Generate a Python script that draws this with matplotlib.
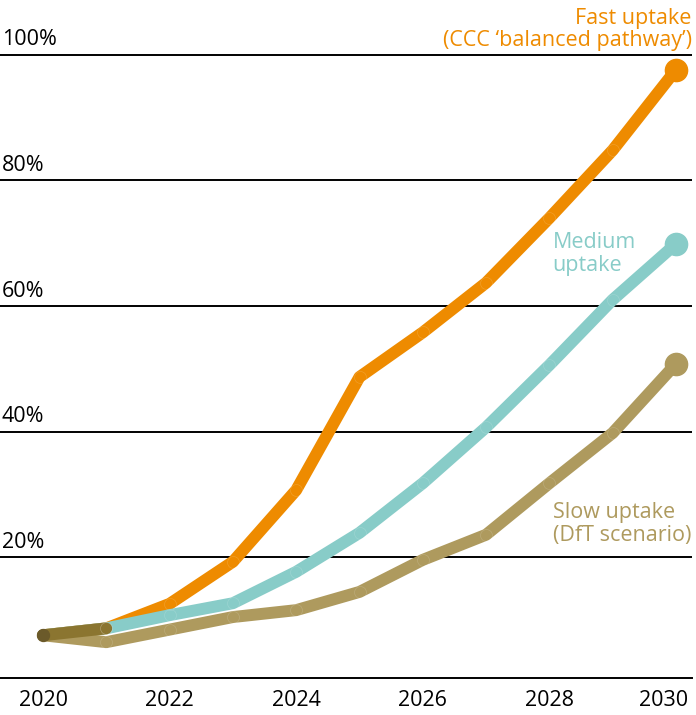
import numpy as np
import matplotlib.pyplot as plt
from matplotlib.transforms import ScaledTranslation

plt.rcParams['font.family'] = ['Open Sans', 'DejaVu Sans']

years = [2020, 2021, 2022, 2023, 2024, 2025, 2026, 2027, 2028, 2029, 2030]
fast = [7.6, 8.7, 12.6, 19.3, 30.7, 48.7, 55.8, 63.7, 74.0, 84.8, 97.6]
medium = [7.6, 8.7, 10.8, 12.7, 17.7, 23.9, 31.8, 40.7, 50.6, 61.0, 69.9]
slow = [7.6, 6.5, 8.5, 10.5, 11.6, 14.5, 19.6, 23.6, 31.8, 39.8, 50.8]

y_ticks = [20, 40, 60, 80, 100]
x_ticks = [2020, 2022, 2024, 2026, 2028, 2030]

c_fast = '#ee8b00'
c_medium = '#88ccc8'
c_slow = '#ae9a5e'
c_overlap = '#8b7530'  # where the three lines sit on top of each other
fs = 15.5

fig = plt.figure(figsize=(6.96, 7.15), dpi=100)
ax = fig.add_axes([0, 37 / 715, 692 / 696, 678 / 715])

for vals, col in [(fast, c_fast), (medium, c_medium), (slow, c_slow)]:
    ax.plot(years, vals, color=col, lw=8.6, solid_capstyle='round',
            solid_joinstyle='round', zorder=3)
    # faint joint rings
    ax.plot(years[1:-1], vals[1:-1], 'o', ms=8.6, mfc='none', mec='white',
            mew=0.4, alpha=0.2, zorder=4)
    ax.plot(years[-1], vals[-1], 'o', ms=16, color=col, zorder=4)

# darker shared start segment
ax.plot(years[:2], fast[:2], color=c_overlap, lw=8.6, solid_capstyle='round', zorder=3.5)
ax.plot(years[:1], slow[:1], 'o', ms=8.6, color='#6b5a2a', zorder=3.6)

for t in y_ticks:
    ax.axhline(t, color='black', lw=1.4, zorder=1)
    ax.text(2019.35, t + 0.7, f'{t}%', fontsize=fs, ha='left', va='bottom')

ax.set_xlim(2020 - 43 / 63.3, 2030 + 16 / 63.3)
ax.set_ylim(0.8, 108.7)

for s in ['top', 'left', 'right']:
    ax.spines[s].set_visible(False)
ax.spines['bottom'].set_linewidth(1.4)
ax.set_yticks([])
ax.set_xticks(x_ticks)
ax.tick_params(axis='x', length=0, pad=9, labelsize=fs)
last = ax.get_xticklabels()[-1]
last.set_transform(last.get_transform() + ScaledTranslation(-0.12, 0, fig.dpi_scale_trans))

ax.text(2030.25, 104.0, 'Fast uptake\n(CCC \u2018balanced pathway\u2019)',
        color=c_fast, fontsize=fs, ha='right', va='center', linespacing=1.1)
ax.text(2028.05, 68.3, 'Medium\nuptake', color=c_medium, fontsize=fs,
        ha='left', va='center', linespacing=1.1)
ax.text(2028.05, 25.3, 'Slow uptake\n(DfT scenario)', color=c_slow,
        fontsize=fs, ha='left', va='center', linespacing=1.1)

fig.savefig('out.png', dpi=100)
